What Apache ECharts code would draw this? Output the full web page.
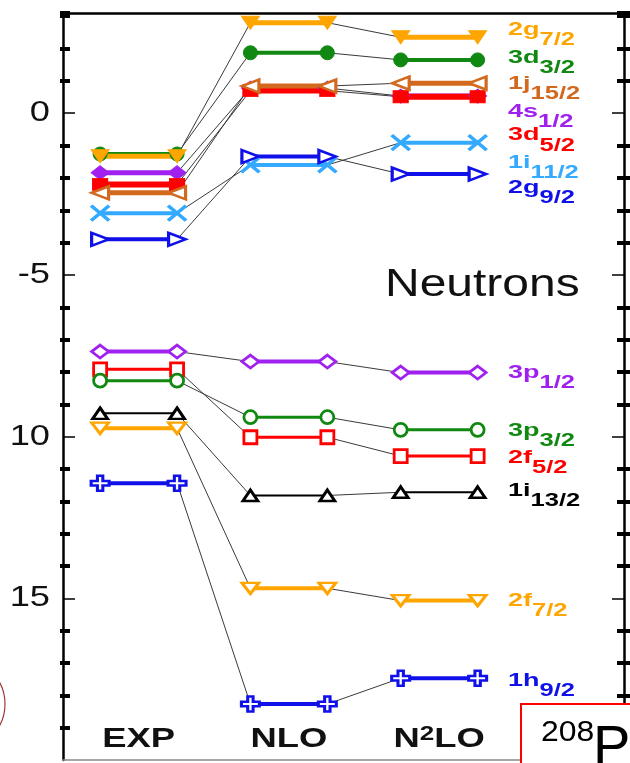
<!DOCTYPE html>
<html><head><meta charset="utf-8">
<script src="https://cdn.jsdelivr.net/npm/echarts@6/dist/echarts.min.js"></script>
<style>html,body{margin:0;padding:0;background:#fff}#c{width:630px;height:763px}</style>
</head><body><div id="c"></div><script>
// ---- data ----
const models = ['EXP', 'NLO', 'N2LO'];
const modelX = [1, 2, 3];
const levelNames = ['3d3/2', '2g7/2', '4s1/2', '3d5/2', '1j15/2', '1i11/2', '2g9/2',
                    '3p1/2', '2f5/2', '3p3/2', '1i13/2', '2f7/2', '1h9/2'];
const expE  = [-1.26, -1.33, -1.84, -2.20, -2.46, -3.09, -3.90, -7.37, -7.92, -8.27, -9.28, -9.74, -11.44];
const nloE  = [ 1.87,  2.80,  0.78,  0.70,  0.84, -1.60, -1.34, -7.68, -10.02, -9.40, -11.82, -14.69, -18.27];
const n2loE = [ 1.65,  2.35,  0.53,  0.51,  0.93, -0.91, -1.88, -8.02, -10.60, -9.79, -11.72, -15.07, -17.47];
const labelE = [ 1.57,  2.44, -0.11, -0.83,  0.75, -1.69, -2.46, -8.17, -10.80, -9.98, -11.83, -15.23, -17.71];
const tickValues = [0, -5, -10, -15];
const tickLabels = ['0', '-5', '10', '15'];
const labelColumnX = 3.458;
const modelLabelE = -19.36;

// ---- styles ----
const SYM = {
  down: 'path://M0,0 L10,0 L5,9 Z',
  up: 'path://M5,0 L10,9 L0,9 Z',
  left: 'path://M10,0 L0,5 L10,10 Z',
  right: 'path://M0,0 L10,5 L0,10 Z',
  x: 'path://M0,0 L10,10 M10,0 L0,10',
  plus: 'path://M3.5,0 L6.5,0 L6.5,3.5 L10,3.5 L10,6.5 L6.5,6.5 L6.5,10 L3.5,10 L3.5,6.5 L0,6.5 L0,3.5 L3.5,3.5 Z'
};
const ORANGE = '#FFA500', GREEN = '#118811', BROWN = '#D2691E', PURPLE = '#A020F0',
      RED = '#FF0000', LBLUE = '#33AAFF', BLUE = '#1010E8', BLACK = '#000000';
const styles = [
  {c: GREEN,  s: 'circle',  sz: 14,      fill: true,  lw: 4},
  {c: ORANGE, s: SYM.down,  sz: [18,13], fill: true,  lw: 5},
  {c: PURPLE, s: 'diamond', sz: [18,14], fill: true,  lw: 5},
  {c: RED,    s: 'rect',    sz: [15,12], fill: true,  lw: 6},
  {c: BROWN,  s: SYM.left,  sz: [17,13], fill: false, lw: 5},
  {c: LBLUE,  s: SYM.x,     sz: [18,15], fill: 'x',   lw: 4},
  {c: BLUE,   s: SYM.right, sz: [17,13], fill: false, lw: 4},
  {c: PURPLE, s: 'diamond', sz: [17,13], fill: false, lw: 4},
  {c: RED,    s: 'rect',    sz: 13,      fill: false, lw: 3},
  {c: GREEN,  s: 'circle',  sz: 13,      fill: false, lw: 3},
  {c: BLACK,  s: SYM.up,    sz: [15,11], fill: false, lw: 2},
  {c: ORANGE, s: SYM.down,  sz: [17,11], fill: false, lw: 4},
  {c: BLUE,   s: SYM.plus,  sz: [18,15], fill: false, lw: 4}
];
const H = 0.256;
const XMIN = 0.497, XMAX = 4.23, YMIN = -20, YMAX = 3.1;
const FONT = 'Liberation Sans, Arial, Helvetica, sans-serif';

const series = [];
levelNames.forEach((n, i) => {
  series.push({
    type: 'line', xAxisIndex: 0, yAxisIndex: 0, z: 1, silent: true, symbol: 'none',
    lineStyle: {color: '#3a3a3a', width: 1},
    data: [[modelX[0] + H, expE[i]], [modelX[1] - H, nloE[i]], [modelX[1] + H, nloE[i]], [modelX[2] - H, n2loE[i]]]
  });
});
levelNames.forEach((n, i) => {
  const st = styles[i];
  const vals = [expE[i], nloE[i], n2loE[i]];
  const data = [];
  modelX.forEach((x, k) => {
    data.push([x - H, vals[k]], [x + H, vals[k]]);
    if (k < 2) data.push([x + 0.5, '-']);
  });
  let itemStyle;
  if (st.fill === true) itemStyle = {color: st.c, borderColor: st.c, borderWidth: 1};
  else if (st.fill === 'x') itemStyle = {color: st.c, borderColor: st.c, borderWidth: 3.5};
  else itemStyle = {color: '#ffffff', borderColor: st.c, borderWidth: 2.8};
  series.push({
    type: 'line', name: n, xAxisIndex: 0, yAxisIndex: 0, z: 2, silent: true,
    connectNulls: false, symbol: st.s, symbolSize: st.sz, showAllSymbol: true,
    itemStyle, lineStyle: {color: st.c, width: st.lw}, data
  });
});

const minorTicks = [];
for (let v = YMIN + 1; v <= Math.floor(YMAX); v++) if (v % 5 !== 0) minorTicks.push(v);
minorTicks.push(YMAX);

const yBase = {type: 'value', min: YMIN, max: YMAX, splitLine: {show: false}, axisLabel: {show: false}};
const xBase = {type: 'value', min: XMIN, max: XMAX, splitLine: {show: false}, axisLabel: {show: false}, axisTick: {show: false}};
const yAxes = [];
['left', 'right'].forEach(pos => {
  yAxes.push(Object.assign({}, yBase, {position: pos, interval: 5,
    axisLine: {show: true, onZero: false, lineStyle: {color: '#000', width: 2.5}},
    axisTick: {show: true, inside: true, length: 12, lineStyle: {color: '#000', width: 1.5}, customValues: tickValues}}));
  yAxes.push(Object.assign({}, yBase, {position: pos, interval: 1,
    axisLine: {show: false, onZero: false},
    axisTick: {show: true, inside: true, length: 7, lineStyle: {color: '#000', width: 4}, customValues: minorTicks}}));
  yAxes.push(Object.assign({}, yBase, {position: pos, interval: 1,
    axisLine: {show: false, onZero: false},
    axisTick: {show: true, inside: false, length: pos === 'left' ? 3 : 6, lineStyle: {color: '#000', width: 4}, customValues: minorTicks}}));
});

const chart = echarts.init(document.getElementById('c'), null, {renderer: 'canvas'});
chart.setOption({
  animation: false,
  backgroundColor: '#ffffff',
  grid: {left: 63, right: 6, top: 13, bottom: 3, containLabel: false},
  xAxis: [
    Object.assign({}, xBase, {position: 'bottom', axisLine: {show: true, onZero: false, lineStyle: {color: '#8a8a8a', width: 1.5}}}),
    Object.assign({}, xBase, {position: 'top', axisLine: {show: true, onZero: false, lineStyle: {color: '#000', width: 2.5}}})
  ],
  yAxis: yAxes,
  series
});

const px = (x, y) => chart.convertToPixel({xAxisIndex: 0, yAxisIndex: 0}, [x, y]);
const graphics = [];
// level labels
levelNames.forEach((n, i) => {
  const m = n.match(/^(\d+[a-z])(.*)$/);
  const p = px(labelColumnX, labelE[i]);
  graphics.push({
    type: 'text', x: p[0], y: p[1], scaleX: 1.42, z: 100,
    style: {
      text: '{m|' + m[1] + '}{s|' + m[2] + '}', fill: styles[i].c, align: 'left', verticalAlign: 'middle',
      rich: {
        m: {fontSize: 19, fontWeight: 'bold', fontFamily: FONT, lineHeight: 19, verticalAlign: 'top', fill: styles[i].c},
        s: {fontSize: 18, fontWeight: 'bold', fontFamily: FONT, lineHeight: 29, verticalAlign: 'bottom', fill: styles[i].c}
      }
    }
  });
});
// model labels
models.forEach((name, k) => {
  const p = px(modelX[k], modelLabelE);
  const txt = name === 'N2LO' ? '{b|N}{sup|2}{b|LO}' : '{b|' + name + '}';
  graphics.push({
    type: 'text', x: p[0], y: p[1], scaleX: 1.3, z: 100,
    style: {
      text: txt, align: 'center', verticalAlign: 'middle', fill: '#111',
      rich: {
        b: {fontSize: 28, fontWeight: 'bold', fontFamily: FONT, lineHeight: 30, verticalAlign: 'middle', fill: '#111'},
        sup: {fontSize: 20, fontWeight: 'bold', fontFamily: FONT, lineHeight: 22, verticalAlign: 'top', fill: '#111'}
      }
    }
  });
});
// tick labels
tickValues.forEach((v, k) => {
  const p = px(XMIN, v);
  graphics.push({
    type: 'text', x: p[0] - 13, y: p[1], scaleX: 1.25, z: 100,
    style: {text: tickLabels[k], align: 'right', verticalAlign: 'middle', fontSize: 29, fontFamily: FONT, fill: '#111'}
  });
});
// title
graphics.push({type: 'text', x: 385, y: 285, scaleX: 1.23, z: 100,
  style: {text: 'Neutrons', align: 'left', verticalAlign: 'middle', fontSize: 39, fontFamily: FONT, fill: '#111'}});
// nucleus box
graphics.push({type: 'rect', z: 110, shape: {x: 521, y: 704, width: 160, height: 100},
  style: {fill: '#ffffff', stroke: '#ff0000', lineWidth: 2}});
graphics.push({type: 'text', x: 541, y: 733, scaleX: 1.1, z: 111,
  style: {text: '208', align: 'left', verticalAlign: 'middle', fontSize: 29, fontFamily: FONT, fill: '#000'}});
graphics.push({type: 'text', x: 593, y: 749, z: 111,
  style: {text: 'P', align: 'left', verticalAlign: 'middle', fontSize: 56, fontFamily: FONT, fill: '#000'}});
// cropped logo arc
graphics.push({type: 'circle', z: 100, shape: {cx: -40, cy: 704, r: 45},
  style: {fill: 'none', stroke: '#9b3a3a', lineWidth: 1.2}});

chart.setOption({graphic: graphics});
</script></body></html>
